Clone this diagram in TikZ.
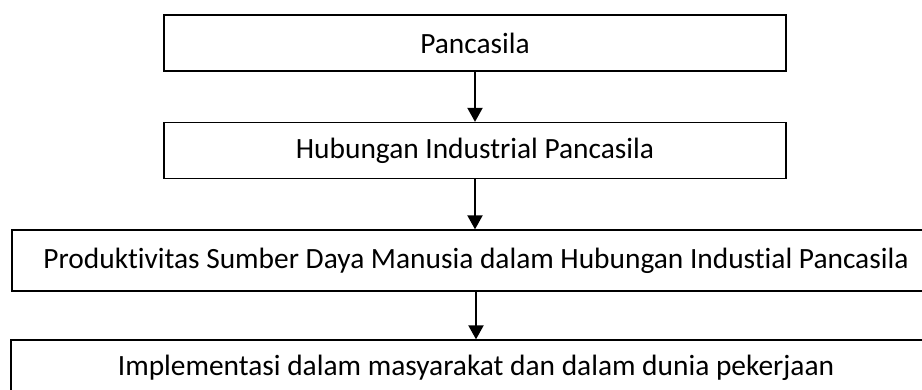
\documentclass[tikz,border=0pt]{standalone}
\usepackage{fontspec}
\setmainfont{Carlito}[Ligatures=CommonOff]
\usetikzlibrary{arrows.meta}
\begin{document}
\begin{tikzpicture}[x=1pt,y=-1pt,
  flowbox/.style={draw=black,line width=1.3pt,rectangle,inner sep=0pt,
    font=\fontsize{29.4}{35}\selectfont},
  flowarrow/.style={line width=2pt,-{Triangle[width=15pt,length=14pt]}}]
\useasboundingbox (0,0) rectangle (922,390);
\clip (0,0) rectangle (922,390);
\node[flowbox,minimum width=622pt,minimum height=56pt] (b1) at (475,43) {Pancasila};
\node[flowbox,minimum width=622pt,minimum height=56pt] (b2) at (475,150.5) {Hubungan Industrial Pancasila};
\node[flowbox,minimum width=928pt,minimum height=61pt] (b3) at (476,260.5) {Produktivitas Sumber Daya Manusia dalam Hubungan Industial Pancasila};
\node[flowbox,minimum width=930pt,minimum height=56pt] (b4) at (476,368) {Implementasi dalam masyarakat dan dalam dunia pekerjaan};
\draw[flowarrow] (b1.south) -- (b2.north);
\draw[flowarrow] (b2.south) -- (b3.north -| b2.south);
\draw[flowarrow] (b3.south) -- (b4.north);
\end{tikzpicture}
\end{document}
